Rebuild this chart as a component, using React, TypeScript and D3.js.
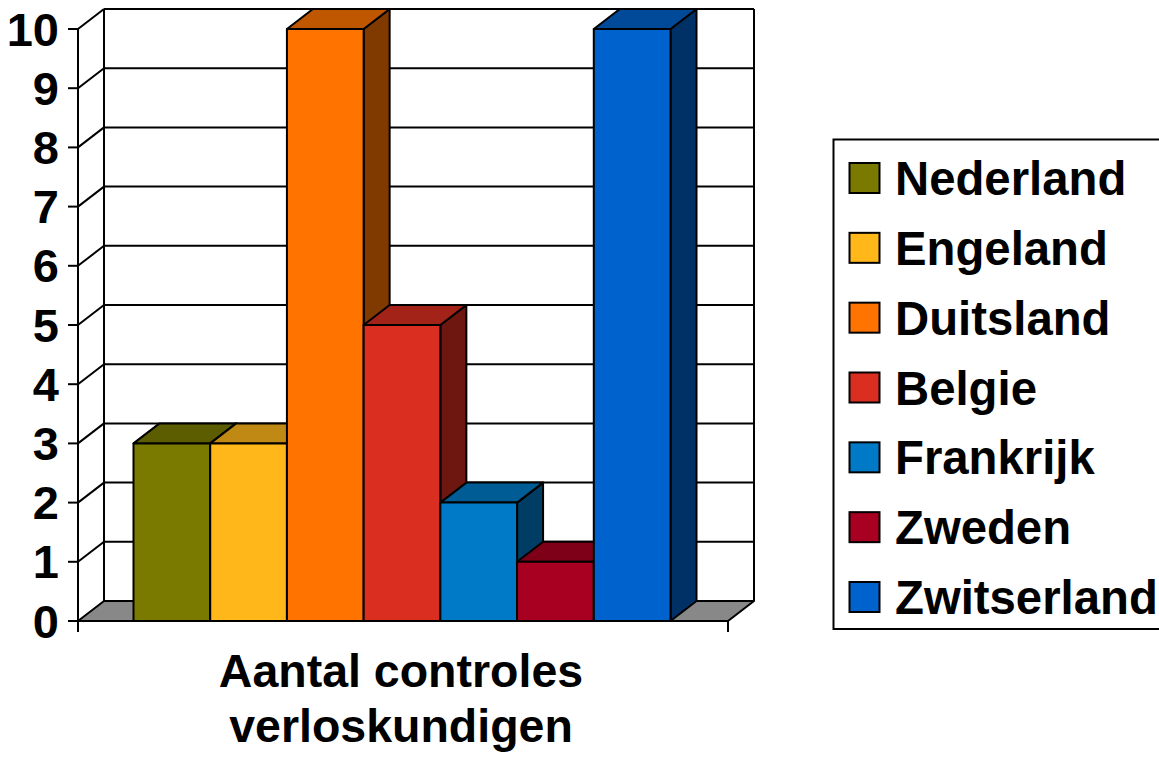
import React from "react";
import * as d3 from "d3";

const series = ["Nederland", "Engeland", "Duitsland", "Belgie", "Frankrijk", "Zweden", "Zwitserland"];
const values = [3, 3, 10, 5, 2, 1, 10];
const colors = ["#7a7a00", "#ffb719", "#ff7300", "#d92e20", "#007ac7", "#a80020", "#0062cc"];
const yTicks = [0, 1, 2, 3, 4, 5, 6, 7, 8, 9, 10];
const titleLines = ["Aantal controles", "verloskundigen"];

const W = 1159;
const H = 760;
const FONT = "'Liberation Sans', Arial, Helvetica, sans-serif";

function shade(c: string, k: number) {
  const rgb = d3.rgb(c);
  return d3.rgb(rgb.r * k, rgb.g * k, rgb.b * k).formatHex();
}

export default function App() {
  const frontLeft = 78;
  const frontRight = 728;
  const dx = 26;
  const dy = -20;
  const y = d3.scaleLinear().domain([0, 10]).range([621, 29]);
  const x = d3.scaleBand<string>().domain(series).range([133.5, 670.5]).paddingInner(0).paddingOuter(0);
  const y0 = y(0);
  const sw = 2;

  const legendRowY = d3.scalePoint<string>().domain(series).range([178, 597]);

  return (
    <svg width={W} height={H} style={{ position: "absolute", left: 0, top: 0, background: "#fff" }}>
      {yTicks.filter((t) => t > 0).map((t) => (
        <line key={"g" + t} x1={frontLeft + dx} x2={frontRight + dx} y1={y(t) + dy} y2={y(t) + dy} stroke="#000" strokeWidth={sw} />
      ))}
      {yTicks.filter((t) => t > 0).map((t) => (
        <line key={"d" + t} x1={frontLeft} y1={y(t)} x2={frontLeft + dx} y2={y(t) + dy} stroke="#000" strokeWidth={sw} />
      ))}
      <line x1={frontLeft + dx} x2={frontLeft + dx} y1={y(10) + dy} y2={y0 + dy} stroke="#000" strokeWidth={sw} />
      <line x1={frontRight + dx} x2={frontRight + dx} y1={y(10) + dy} y2={y0 + dy} stroke="#000" strokeWidth={sw} />
      <polygon
        points={`${frontLeft},${y0} ${frontRight},${y0} ${frontRight + dx},${y0 + dy} ${frontLeft + dx},${y0 + dy}`}
        fill="#888888"
        stroke="#000"
        strokeWidth={sw}
        strokeLinejoin="round"
      />
      <line x1={frontLeft} x2={frontLeft} y1={y(10)} y2={y0 + 11} stroke="#000" strokeWidth={sw} />
      <line x1={frontRight} x2={frontRight} y1={y0} y2={y0 + 11} stroke="#000" strokeWidth={sw} />
      {yTicks.map((t) => (
        <line key={"t" + t} x1={frontLeft - 10} x2={frontLeft} y1={y(t)} y2={y(t)} stroke="#000" strokeWidth={sw} />
      ))}
      {series.map((s, i) => {
        const x0 = x(s) as number;
        const x1 = x0 + x.bandwidth();
        const yv = y(values[i]);
        const c = colors[i];
        return (
          <g key={s} stroke="#000" strokeWidth={sw} strokeLinejoin="round">
            <polygon points={`${x1},${yv} ${x1 + dx},${yv + dy} ${x1 + dx},${y0 + dy} ${x1},${y0}`} fill={shade(c, 0.5)} />
            <polygon points={`${x0},${yv} ${x0 + dx},${yv + dy} ${x1 + dx},${yv + dy} ${x1},${yv}`} fill={shade(c, 0.75)} />
            <rect x={x0} y={yv} width={x1 - x0} height={y0 - yv} fill={c} />
          </g>
        );
      })}
      {yTicks.map((t) => (
        <text key={"l" + t} x={59} y={y(t)} dy="0.355em" textAnchor="end" fontFamily={FONT} fontWeight="bold" fontSize={47} fill="#000">
          {t}
        </text>
      ))}
      {titleLines.map((l, i) => (
        <text key={l} x={401} y={687 + i * 55} textAnchor="middle" fontFamily={FONT} fontWeight="bold" fontSize={46.5} fill="#000">
          {l}
        </text>
      ))}
      <rect x={833.5} y={139.5} width={340} height={489.5} fill="#fff" stroke="#000" strokeWidth={sw} />
      {series.map((s, i) => {
        const cy = legendRowY(s) as number;
        return (
          <g key={"lg" + s}>
            <rect x={849.5} y={cy - 15} width={30} height={30} fill={colors[i]} stroke="#000" strokeWidth={sw} />
            <text x={895} y={cy + 17} fontFamily={FONT} fontWeight="bold" fontSize={47.3} fill="#000">
              {s}
            </text>
          </g>
        );
      })}
    </svg>
  );
}
